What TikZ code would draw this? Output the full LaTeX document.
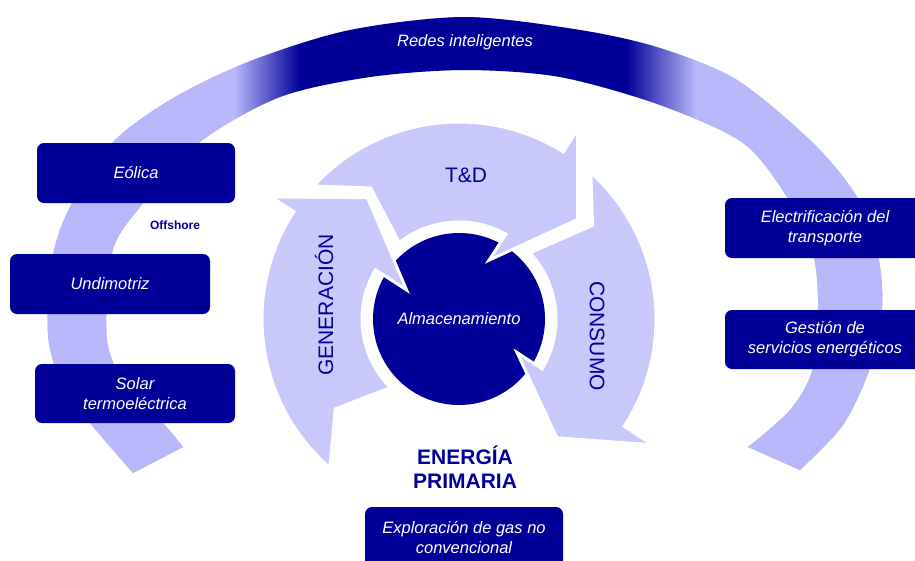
\documentclass[tikz,border=0pt]{standalone}
\usepackage{fontspec}
\setsansfont{Liberation Sans}
\usetikzlibrary{positioning,calc}
\definecolor{navy}{RGB}{0,0,153}
\definecolor{bandlav}{RGB}{183,183,250}
\definecolor{arrowlav}{RGB}{200,200,250}
\pgfdeclarehorizontalshading{bandshade}{100bp}{color(0bp)=(bandlav); color(37.8bp)=(bandlav); color(41.4bp)=(navy); color(59.2bp)=(navy); color(63bp)=(bandlav); color(100bp)=(bandlav)}
\newcommand{\ringband}{plot[smooth] coordinates {(133,473) (90,423) (62,385) (48,335) (52,260) (70,207) (113,142) (175,97) (253,60) (350,30) (465,17) (580,30) (660,48) (737,80) (813,143) (857,197) (878,255) (882,310) (870,368) (843,425) (800,470)}
  -- plot[smooth] coordinates {(748,447) (790,410) (813,368) (818,300) (812,250) (787,197) (743,143) (660,105) (560,77) (465,70) (370,77) (280,97) (200,142) (140,207) (112,253) (107,340) (128,390) (163,423) (183,447)} -- cycle}
\tikzset{
  srcbox/.style={fill=navy, rounded corners=7pt, minimum width=198pt, minimum height=60pt, inner sep=0pt,
    text=white, align=center, font=\sffamily\itshape\fontsize{16.5}{20}\selectfont},
  cyclabel/.style={text=navy, font=\sffamily\fontsize{21}{24}\selectfont},
  cycarrow/.style={fill=arrowlav, draw=white, line width=3pt, line join=miter}
}
\begin{document}
\begin{tikzpicture}[x=1pt,y=-1pt,font=\sffamily]
\useasboundingbox (0,0) rectangle (915,560);
\fill[white] (0,0) rectangle (915,560);
\clip (0,0) rectangle (915,560);

% outer band
\fill[bandlav] \ringband;
\begin{scope}
\clip \ringband;
\shade[shading=bandshade] (0,0) rectangle (915,560);
\end{scope}
\node[text=white, font=\sffamily\itshape\fontsize{16.5}{20}\selectfont] (redes) at (465,42) {Redes inteligentes};

% sources and uses
\node[srcbox] (eolica) at (136,173) {Eólica};
\node[text=navy, font=\sffamily\bfseries\fontsize{12}{14}\selectfont] (offsh) at (175,225) {Offshore};
\node[srcbox, minimum width=200pt] (undim) at (110,284) {Undimotriz};
\node[srcbox, minimum width=200pt, minimum height=59pt] (solar) at (135,393.5) {Solar\\termoeléctrica};
\node[srcbox, minimum width=200pt] (electr) at (825,228) {Electrificación del\\transporte};
\node[srcbox, minimum width=200pt, minimum height=59pt] (gestion) at (825,339.5) {Gestión de\\servicios energéticos};
\node[srcbox] (explor) at (464,537) {Exploración de gas no\\convencional};
\node[text=navy, align=center, font=\sffamily\bfseries\fontsize{21}{24}\selectfont] (primaria) at (465,467) {ENERGÍA\\PRIMARIA};

% storage and cycle
\node[circle, fill=navy, minimum size=172pt, inner sep=0pt, text=white,
  font=\sffamily\itshape\fontsize{16.5}{20}\selectfont] (almac) at (459,319) {Almacenamiento};
\begin{scope}[shift={(almac.center)}]
\filldraw[cycarrow] (-229:197) arc[start angle=-229, end angle=-147, radius=197] -- (-147:224) -- (-127:152)
  -- (-151:60) -- (-149.5:97) arc[start angle=-149.5, end angle=-225, radius=97] -- (-216:153) -- cycle;
\filldraw[cycarrow] (-137.5:197) arc[start angle=-137.5, end angle=-58, radius=197] -- (-58:224) -- (-40:155)
  -- (-63:66) -- (-61:97) arc[start angle=-61, end angle=-128, radius=97] -- (-124:158) -- cycle;
\filldraw[cycarrow] (-48:197) arc[start angle=-48, end angle=33, radius=197] -- (33:231) -- (50.5:154)
  -- (30:67) -- (31:97) arc[start angle=31, end angle=-43, radius=97] -- (-35:163) -- cycle;
\end{scope}
\node[cyclabel, rotate=90] (gen) at (324,305) {GENERACIÓN};
\node[cyclabel] (td) at (466,175) {T\&D};
\node[cyclabel, rotate=-90] (cons) at (597,336) {CONSUMO};

\end{tikzpicture}
\end{document}
